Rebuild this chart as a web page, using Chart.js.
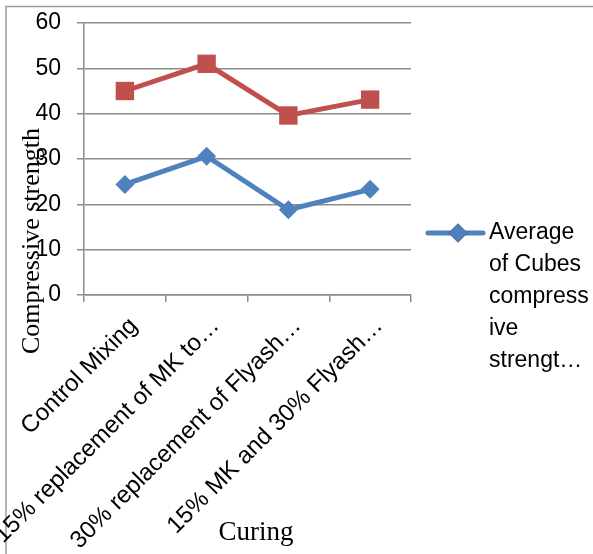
<!DOCTYPE html>
<html>
<head>
<meta charset="utf-8">
<script src="https://cdn.jsdelivr.net/npm/chart.js@4.4.1/dist/chart.umd.min.js"></script>
<style>
  html, body { margin: 0; padding: 0; background: #fff; }
  #wrap { width: 593px; height: 554px; position: relative; }
</style>
</head>
<body>
<div id="wrap"><canvas id="lineChart" width="593" height="554"></canvas></div>
<script>
// mixes on the x axis
const categories = [
    'Control Mixing',
    '15% replacement of MK to…',
    '30% replacement of Flyash…',
    '15% MK and 30% Flyash…'
];

// average compressive strength
const cubesStrength = [24.4, 30.6, 18.8, 23.3];
const secondSeries = [45.0, 51.0, 39.6, 43.1];

const yTicks = [0, 10, 20, 30, 40, 50, 60];

const legendLines = ['Average', 'of Cubes', 'compress', 'ive', 'strengt…'];

const BLUE = '#4f81bd';
const RED = '#c0504d';
const GRID = '#8c8c8c';
const SANS = '"Liberation Sans", Arial, sans-serif';
const SERIF = '"Liberation Serif", "Times New Roman", serif';

// frame, axis titles and the wrapped legend entry
const extras = {
    id: 'extras',
    beforeDraw(chart) {
        const ctx = chart.ctx;
        ctx.save();
        ctx.strokeStyle = '#9a9a9a';
        ctx.lineWidth = 1.5;
        ctx.strokeRect(6, 6.5, 800, 800);
        ctx.restore();
    },
    afterDraw(chart) {
        const ctx = chart.ctx;
        const area = chart.chartArea;
        ctx.save();

        // y title
        ctx.fillStyle = '#000';
        ctx.font = '26px ' + SERIF;
        ctx.textAlign = 'center';
        ctx.textBaseline = 'middle';
        ctx.translate(32, 241);
        ctx.rotate(-Math.PI / 2);
        ctx.fillText('Compressive strength', 0, 0);
        ctx.setTransform(1, 0, 0, 1, 0, 0);

        // x title
        ctx.font = '27px ' + SERIF;
        ctx.fillText('Curing', 256, 533);

        // legend: only the first series is shown
        const ds = chart.data.datasets[0];
        const lx = area.right + 17;
        const ly = 233;
        ctx.strokeStyle = ds.borderColor;
        ctx.lineWidth = ds.borderWidth;
        ctx.lineCap = 'round';
        ctx.beginPath();
        ctx.moveTo(lx, ly);
        ctx.lineTo(lx + 55, ly);
        ctx.stroke();
        Chart.helpers.drawPoint(ctx, {
            pointStyle: ds.pointStyle,
            radius: ds.pointRadius,
            borderWidth: 0
        }, lx + 30, ly);
        ctx.fillStyle = ds.backgroundColor;
        ctx.fill();

        ctx.fillStyle = '#000';
        ctx.font = '23px ' + SANS;
        ctx.textAlign = 'left';
        legendLines.forEach((line, i) => {
            ctx.fillText(line, lx + 61, ly + i * 32);
        });
        ctx.restore();
    }
};

const lineCtx = document.getElementById('lineChart').getContext('2d');
const lineChart = new Chart(lineCtx, {
    type: 'line',
    data: {
        labels: categories,
        datasets: [{
            label: 'Average of Cubes compressive strength',
            data: cubesStrength,
            borderColor: BLUE,
            backgroundColor: BLUE,
            borderWidth: 5,
            pointStyle: 'rectRot',
            pointRadius: 9.5,
            pointBorderWidth: 0,
            pointHoverRadius: 9.5
        }, {
            label: 'Series2',
            data: secondSeries,
            borderColor: RED,
            backgroundColor: RED,
            borderWidth: 5,
            pointStyle: 'rect',
            pointRadius: 13,
            pointBorderWidth: 0,
            pointHoverRadius: 13
        }]
    },
    options: {
        responsive: false,
        animation: false,
        layout: {
            autoPadding: false,
            padding: { top: 23, right: 182, left: 0, bottom: 0 }
        },
        plugins: {
            legend: { display: false },
            tooltip: { enabled: false }
        },
        scales: {
            x: {
                offset: true,
                grid: {
                    offset: true,
                    drawOnChartArea: false,
                    color: GRID,
                    lineWidth: 1.5,
                    tickLength: 7
                },
                border: { color: GRID, width: 1.5 },
                ticks: {
                    color: '#000',
                    font: { family: SANS, size: 24 },
                    maxRotation: 45,
                    minRotation: 45,
                    autoSkip: false,
                    padding: 10,
                    labelOffset: 9
                },
                afterFit(scale) {
                    // let the long rotated labels run off the left edge
                    scale.height = 259;
                    scale.paddingLeft = 0;
                    scale.paddingRight = 0;
                }
            },
            y: {
                min: yTicks[0],
                max: yTicks[yTicks.length - 1],
                afterBuildTicks(scale) {
                    scale.ticks = yTicks.map(v => ({ value: v }));
                },
                grid: {
                    color: GRID,
                    lineWidth: 1.5,
                    tickLength: 7
                },
                border: { color: GRID, width: 1.5 },
                ticks: {
                    color: '#000',
                    font: { family: SANS, size: 23 },
                    padding: 16
                },
                afterFit(scale) {
                    scale.width = 84;
                    scale.paddingTop = 0;
                    scale.paddingBottom = 0;
                }
            }
        }
    },
    plugins: [extras]
});
</script>
</body>
</html>
